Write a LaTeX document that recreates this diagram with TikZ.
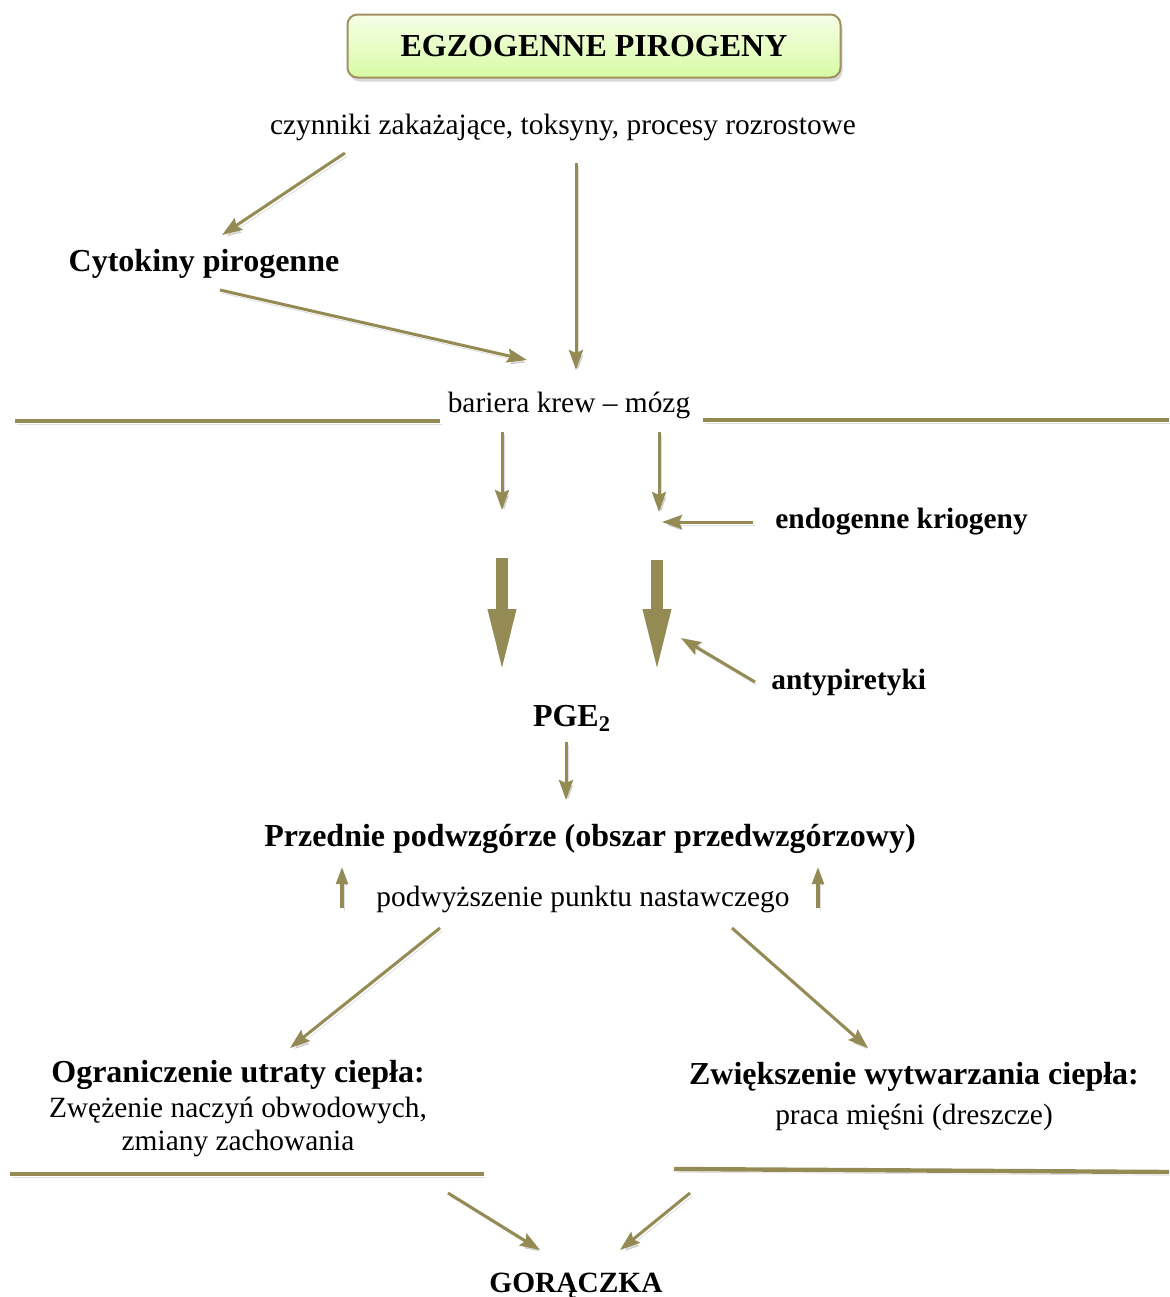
\documentclass[tikz,border=0pt]{standalone}
\usepackage{fontspec}
\setmainfont{Liberation Serif}
\usetikzlibrary{arrows.meta,shadows,positioning}
\definecolor{arrowol}{HTML}{948A54}
\definecolor{boxline}{RGB}{160,146,96}
\definecolor{boxtop}{RGB}{246,255,232}
\definecolor{boxbot}{RGB}{216,251,164}

\begin{document}
\begin{tikzpicture}[x=0.5pt, y=-0.5pt, font=\fontsize{14.7}{17}\selectfont,
    lbl/.style={inner sep=0pt, anchor=base},
    hd/.style={lbl, font=\bfseries\fontsize{16}{19}\selectfont},
    hds/.style={lbl, font=\bfseries\fontsize{14.7}{17}\selectfont},
    shd/.style={preaction={draw=black, opacity=0.13,
                transform canvas={shift={(1pt,-1.6pt)}}}},
    arr/.style={shd, draw=arrowol, line width=1.5pt,
                -{Stealth[length=10pt, width=7pt, inset=1.5pt]}},
    bigarr/.style={shd, draw=arrowol, line width=6pt,
                   -{Triangle[length=33pt, width=12.5pt]}},
    uparr/.style={shd, draw=arrowol, line width=2.2pt,
                  -{Triangle[length=9pt, width=5.5pt]}},
    wall/.style={shd, draw=arrowol, line width=2.2pt}]
  \useasboundingbox (0,0) rectangle (1169,1297);

  % naglowek
  \node[draw=boxline, line width=1pt, rounded corners=5pt,
        top color=boxtop, bottom color=boxbot,
        minimum width=246.5pt, minimum height=31.5pt,
        font=\bfseries\fontsize{16}{19}\selectfont,
        drop shadow={shadow xshift=1pt, shadow yshift=-2pt, opacity=0.3}]
        (title) at (594,46) {EGZOGENNE PIROGENY};

  % teksty
  \node[lbl] (czyn) at (563,134) {czynniki zakażające, toksyny, procesy rozrostowe};
  \node[hd]  (cyto) at (204,271) {Cytokiny pirogenne};
  \node[lbl] (bar)  at (569,412) {bariera krew – mózg};
  \node[hds, anchor=base west] (krio) at (775,528) {endogenne kriogeny};
  \node[hds, anchor=base west] (anty) at (771,689) {antypiretyki};
  \node[hd]  (pge)  at (572,726) {PGE\textsubscript{2}};
  \node[hd]  (przed) at (590,846) {Przednie podwzgórze (obszar przedwzgórzowy)};
  \node[lbl] (podw) at (583,906) {podwyższenie punktu nastawczego};
  \node[hd]  (ogr)  at (238,1082) {Ograniczenie utraty ciepła:};
  \node[lbl] (ogrA) at (238,1117) {Zwężenie naczyń obwodowych,};
  \node[lbl] (ogrB) at (238,1150) {zmiany zachowania};
  \node[hd]  (zwi)  at (914,1084) {Zwiększenie wytwarzania ciepła:};
  \node[lbl] (zwiA) at (914,1124) {praca mięśni (dreszcze)};
  \node[hds] (gor)  at (576,1292) {GORĄCZKA};

  % punkty koncowe strzalek
  \coordinate (czynL) at (345,153);  \coordinate (cytoT) at (222,235);
  \coordinate (czynM) at (576,163);  \coordinate (barT)  at (576,370);
  \coordinate (cytoB) at (220,290);  \coordinate (barL)  at (527,360);
  \coordinate (barBL) at (502,432);  \coordinate (midL)  at (502,510);
  \coordinate (barBR) at (659,432);  \coordinate (midR)  at (659,512);
  \coordinate (krioW) at (753,522);  \coordinate (krioE) at (662,522);
  \coordinate (bigL)  at (502,558);  \coordinate (bigLe) at (502,675);
  \coordinate (bigR)  at (657,560);  \coordinate (bigRe) at (657,675);
  \coordinate (antyW) at (755,682);  \coordinate (antyE) at (681,638);
  \coordinate (pgeB)  at (566,742);  \coordinate (przT)  at (566,800);
  \coordinate (upL)   at (342,908);  \coordinate (upLe)  at (342,866);
  \coordinate (upR)   at (818,908);  \coordinate (upRe)  at (818,866);
  \coordinate (podL)  at (440,928);  \coordinate (ogrT)  at (290,1048);
  \coordinate (podR)  at (732,928);  \coordinate (zwiT)  at (868,1048);
  \coordinate (ogrE)  at (448,1193); \coordinate (gorL)  at (540,1250);
  \coordinate (zwiE)  at (690,1193); \coordinate (gorR)  at (620,1250);

  % bariery
  \draw[wall] (15,421) -- (440,421);
  \draw[wall] (703,420) -- (1169,420);
  \draw[wall] (10,1174) -- (484,1174);
  \draw[wall] (674,1169) -- (1169,1172);

  % strzalki
  \draw[arr] (czynL) -- (cytoT);
  \draw[arr] (czynM) -- (barT);
  \draw[arr] (cytoB) -- (barL);
  \draw[arr] (barBL) -- (midL);
  \draw[arr] (barBR) -- (midR);
  \draw[arr] (krioW) -- (krioE);
  \draw[bigarr] (bigL) -- (bigLe);
  \draw[bigarr] (bigR) -- (bigRe);
  \draw[arr] (antyW) -- (antyE);
  \draw[arr] (pgeB) -- (przT);
  \draw[uparr] (upL) -- (upLe);
  \draw[uparr] (upR) -- (upRe);
  \draw[arr] (podL) -- (ogrT);
  \draw[arr] (podR) -- (zwiT);
  \draw[arr] (ogrE) -- (gorL);
  \draw[arr] (zwiE) -- (gorR);
\end{tikzpicture}
\end{document}
